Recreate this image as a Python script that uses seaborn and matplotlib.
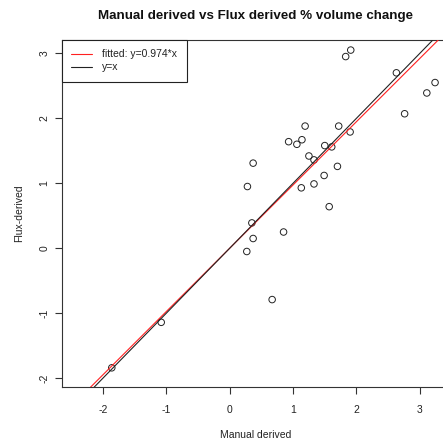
import matplotlib
matplotlib.use("Agg")
import matplotlib.pyplot as plt
import seaborn as sns
import pandas as pd

manual = [2.76, 1.19, 1.72, 1.90, 0.93, 1.06, 1.14, 1.50, 1.61, 0.37,
          1.25, 1.33, 1.70, 0.28, 1.49, 1.13, 1.33, 1.57, 0.35, 0.37,
          0.85, 0.27, 0.67, -1.08, -1.86, 1.91, 1.83, 2.63, 3.24, 3.11]
flux = [2.07, 1.88, 1.88, 1.79, 1.64, 1.60, 1.67, 1.58, 1.56, 1.31,
        1.42, 1.36, 1.26, 0.95, 1.12, 0.93, 0.99, 0.64, 0.39, 0.15,
        0.25, -0.05, -0.79, -1.14, -1.84, 3.05, 2.95, 2.70, 2.55, 2.39]
fitted_slope = 0.974
x_ticks = [-2, -1, 0, 1, 2, 3]
y_ticks = [-2, -1, 0, 1, 2, 3]
title = "Manual derived vs Flux derived % volume change"
xlabel = "Manual derived"
ylabel = "Flux-derived"
legend_labels = ["fitted: y=0.974*x", "y=x"]

df = pd.DataFrame({"manual": manual, "flux": flux})

sns.set_theme(style="white")
plt.rcParams["font.family"] = ["Liberation Sans", "DejaVu Sans"]

W, H = 443, 440
fig = plt.figure(figsize=(W / 100, H / 100), dpi=100)
left, right, top, bottom = 61.7, 449.0, 40.0, 387.3
ax = fig.add_axes([left / W, 1 - bottom / H, (right - left) / W, (bottom - top) / H])

sns.scatterplot(data=df, x="manual", y="flux", ax=ax, marker="o", s=22,
                facecolor="none", edgecolor="#222222", linewidth=0.7, zorder=3)

l1 = ax.axline((0, 0), slope=fitted_slope, color="#ff2020", lw=0.8, zorder=4)
l2 = ax.axline((0, 0), slope=1.0, color="#222222", lw=0.8, zorder=4)

ax.set_xlim(-2.65, 3.46)
ax.set_ylim(-2.14, 3.205)
ax.set_xticks(x_ticks)
ax.set_yticks(y_ticks)
ax.set_xticklabels([str(t) for t in x_ticks])
ax.set_yticklabels([str(t) for t in y_ticks], rotation=90, va="center")

for s in ["left", "bottom", "top"]:
    ax.spines[s].set_color("#333333")
    ax.spines[s].set_linewidth(0.8)
ax.spines["right"].set_visible(False)

ax.tick_params(axis="both", which="major", direction="out", length=5,
               width=0.8, color="#333333", labelsize=7.5, labelcolor="#222222",
               bottom=True, left=True)
ax.tick_params(axis="x", pad=7.5)
ax.tick_params(axis="y", pad=4)

ax.set_xlabel(xlabel, fontsize=7.5, color="#222222", labelpad=11)
ax.set_ylabel(ylabel, fontsize=7.5, color="#222222", labelpad=11)
ax.set_title(title, fontsize=9.6, fontweight="bold", color="#111111", pad=15)

leg = ax.legend([l1, l2], legend_labels, loc="upper left", bbox_to_anchor=(0, 1),
                borderaxespad=0, fancybox=False, framealpha=1, edgecolor="#222222",
                fontsize=7.5, handlelength=2.0, handletextpad=1.0, borderpad=0.9,
                labelspacing=0.3)
leg.get_frame().set_linewidth(0.8)
for t in leg.get_texts():
    t.set_color("#222222")

fig.savefig("out.png", dpi=100)
